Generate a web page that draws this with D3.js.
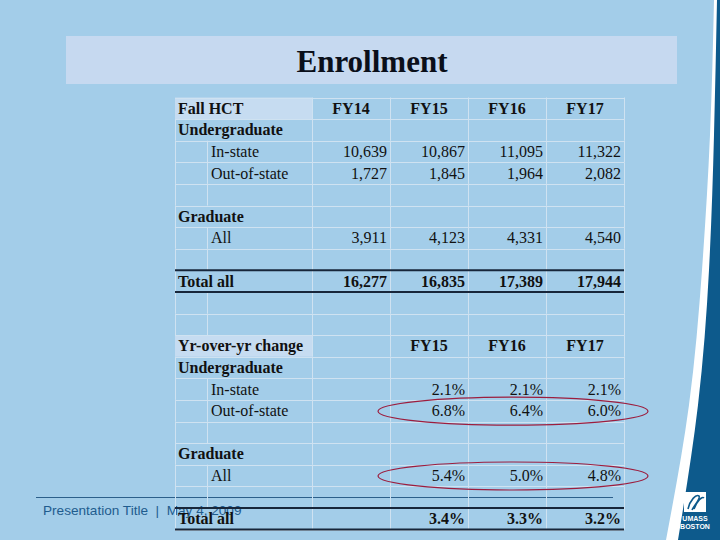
<!DOCTYPE html>
<html>
<head>
<meta charset="utf-8">
<script src="https://cdn.jsdelivr.net/npm/d3@7"></script>
<style>
  html, body { margin: 0; padding: 0; background: #a3cde9; }
  svg { display: block; }
</style>
</head>
<body>
<svg id="chart" width="720" height="540"></svg>
<script>
// ---- Data ----
const title = "Enrollment";
const years = ["FY14", "FY15", "FY16", "FY17"];
const changeYears = ["FY15", "FY16", "FY17"];
const inState = [10639, 10867, 11095, 11322];
const outState = [1727, 1845, 1964, 2082];
const gradAll = [3911, 4123, 4331, 4540];
const totalAll = [16277, 16835, 17389, 17944];
const inStateChg = [2.1, 2.1, 2.1];
const outStateChg = [6.8, 6.4, 6.0];
const gradChg = [5.4, 5.0, 4.8];
const totalChg = [3.4, 3.3, 3.2];
const footerText = "Presentation Title  |  May 4, 2009";

// table rows built from the arrays
const fmtN = d3.format(",");
const fmtP = v => d3.format(".1f")(v) + "%";
const rows = [
  { label: "Fall HCT", type: "header", cols: years, vals: years },
  { label: "Undergraduate", type: "group" },
  { label: "In-state", type: "item", cols: years, vals: inState.map(fmtN) },
  { label: "Out-of-state", type: "item", cols: years, vals: outState.map(fmtN) },
  { type: "empty" },
  { label: "Graduate", type: "group" },
  { label: "All", type: "item", cols: years, vals: gradAll.map(fmtN) },
  { type: "empty" },
  { label: "Total all", type: "total", cols: years, vals: totalAll.map(fmtN) },
  { type: "empty" },
  { type: "empty" },
  { label: "Yr-over-yr change", type: "header", cols: changeYears, vals: changeYears },
  { label: "Undergraduate", type: "group" },
  { label: "In-state", type: "item", cols: changeYears, vals: inStateChg.map(fmtP) },
  { label: "Out-of-state", type: "item", cols: changeYears, vals: outStateChg.map(fmtP), circled: true },
  { type: "empty" },
  { label: "Graduate", type: "group" },
  { label: "All", type: "item", cols: changeYears, vals: gradChg.map(fmtP), circled: true },
  { type: "empty" },
  { label: "Total all", type: "total", cols: changeYears, vals: totalChg.map(fmtP) }
];

const svg = d3.select("#chart");
const W = 720, H = 540;

// ---- Slide background ----
svg.append("rect").attr("width", W).attr("height", H).attr("fill", "#a3cde9");

const curve = d3.line().curve(d3.curveNatural);
const whiteEdge = [[714, 0], [710, 135], [702, 270], [689, 405], [666, 540]];
const darkEdge = [[717, 0], [714, 135], [709, 270], [698, 405], [678, 540]];
svg.append("path")
  .attr("d", curve(whiteEdge) + "L720,540L720,0Z")
  .attr("fill", "#ffffff");
svg.append("path")
  .attr("d", curve(darkEdge) + "L720,540L720,0Z")
  .attr("fill", "#0d5a8c");

// title box
svg.append("rect").attr("x", 66).attr("y", 36).attr("width", 611).attr("height", 48)
  .attr("fill", "#c6d9f0");
svg.append("text").attr("x", 372).attr("y", 72)
  .attr("text-anchor", "middle")
  .attr("font-family", "'Liberation Serif', 'Times New Roman', serif")
  .attr("font-weight", "bold").attr("font-size", 31)
  .attr("fill", "#0a0f1a").text(title);

// footer
svg.append("line").attr("x1", 36).attr("x2", 613).attr("y1", 497.5).attr("y2", 497.5)
  .attr("stroke", "#2c5f8a").attr("stroke-width", 1);
svg.append("text").attr("x", 43).attr("y", 515)
  .attr("font-family", "'Liberation Sans', Arial, sans-serif")
  .attr("font-size", 13.6).attr("fill", "#1f5c8e")
  .attr("xml:space", "preserve").style("white-space", "pre")
  .text(footerText);

// ---- Table scales ----
const tableLeft = 175, indentX = 207, labelRight = 312, tableRight = 624;
const y = d3.scaleBand().domain(d3.range(rows.length)).range([97.5, 529.5]).padding(0);
const x = d3.scaleBand().domain(years).range([labelRight, tableRight]).padding(0);
const rh = y.bandwidth();

const serif = "'Liberation Serif', 'Times New Roman', serif";
const gridColor = "#cfe2f1";
const table = svg.append("g");

// header highlights
rows.forEach((r, i) => {
  if (r.type === "header") {
    table.append("rect").attr("x", tableLeft).attr("y", y(i))
      .attr("width", labelRight - tableLeft).attr("height", rh)
      .attr("fill", "#c6dcf1");
  }
});

// horizontal grid lines
d3.range(rows.length + 1).forEach(i => {
  const yy = i < rows.length ? y(i) : y(rows.length - 1) + rh;
  table.append("line").attr("x1", tableLeft).attr("x2", tableRight)
    .attr("y1", Math.round(yy) + 0.5).attr("y2", Math.round(yy) + 0.5)
    .attr("stroke", gridColor).attr("stroke-width", 1);
});

// vertical grid lines per row
rows.forEach((r, i) => {
  const y0 = y(i), y1 = y(i) + rh;
  const xs = [tableLeft, labelRight, ...years.map(c => x(c) + x.bandwidth())];
  if (r.type === "item" || r.type === "empty") xs.push(indentX);
  xs.forEach(xx => {
    if (r.type === "header" && xx === tableLeft) return;
    table.append("line").attr("x1", xx + 0.5).attr("x2", xx + 0.5)
      .attr("y1", y0).attr("y2", y1)
      .attr("stroke", gridColor).attr("stroke-width", 1);
  });
});

// thick total lines
rows.forEach((r, i) => {
  if (r.type === "total") {
    [y(i), y(i) + rh].forEach(yy => {
      table.append("line").attr("x1", tableLeft).attr("x2", tableRight)
        .attr("y1", yy).attr("y2", yy)
        .attr("stroke", "#17263a").attr("stroke-width", 2);
    });
  }
});

// labels
rows.forEach((r, i) => {
  if (!r.label) return;
  const bold = r.type !== "item";
  table.append("text")
    .attr("x", r.type === "item" ? indentX + 4 : tableLeft + 3)
    .attr("y", y(i) + rh / 2 + 5.5)
    .attr("font-family", serif).attr("font-size", 16)
    .attr("font-weight", bold ? "bold" : "normal")
    .attr("fill", "#111").text(r.label);
});

// values
rows.forEach((r, i) => {
  if (!r.vals) return;
  r.vals.forEach((v, k) => {
    const col = r.cols[k];
    const isHeader = r.type === "header";
    table.append("text")
      .attr("x", isHeader ? x(col) + x.bandwidth() / 2 : x(col) + x.bandwidth() - 3)
      .attr("y", y(i) + rh / 2 + 5.5)
      .attr("text-anchor", isHeader ? "middle" : "end")
      .attr("font-family", serif).attr("font-size", 16)
      .attr("font-weight", (isHeader || r.type === "total") ? "bold" : "normal")
      .attr("fill", "#111").text(v);
  });
});

// red ellipses around circled rows
rows.forEach((r, i) => {
  if (!r.circled) return;
  const x0 = x(r.cols[0]) - 12, x1 = x(r.cols[r.cols.length - 1]) + x.bandwidth() + 24;
  table.append("ellipse")
    .attr("cx", (x0 + x1) / 2).attr("cy", y(i) + rh / 2 + 0.5)
    .attr("rx", (x1 - x0) / 2).attr("ry", 14)
    .attr("fill", "none").attr("stroke", "#9c1d3e").attr("stroke-width", 1.2);
});

// logo
const logo = svg.append("g");
logo.append("rect").attr("x", 684).attr("y", 492).attr("width", 22).attr("height", 20).attr("fill", "#ffffff");
logo.append("path").attr("d", "M688,509 C690,500 696,494 699,496 C701,498 694,506 692,510 M694,509 C697,501 702,496 704,498")
  .attr("fill", "none").attr("stroke", "#0d5a8c").attr("stroke-width", 1.6);
logo.append("text").attr("x", 695).attr("y", 521).attr("text-anchor", "middle")
  .attr("font-family", "'Liberation Sans', Arial, sans-serif").attr("font-weight", "bold")
  .attr("font-size", 7).attr("fill", "#ffffff").text("UMASS");
logo.append("text").attr("x", 695).attr("y", 529).attr("text-anchor", "middle")
  .attr("font-family", "'Liberation Sans', Arial, sans-serif").attr("font-weight", "bold")
  .attr("font-size", 7).attr("fill", "#ffffff").text("BOSTON");
</script>
</body>
</html>
